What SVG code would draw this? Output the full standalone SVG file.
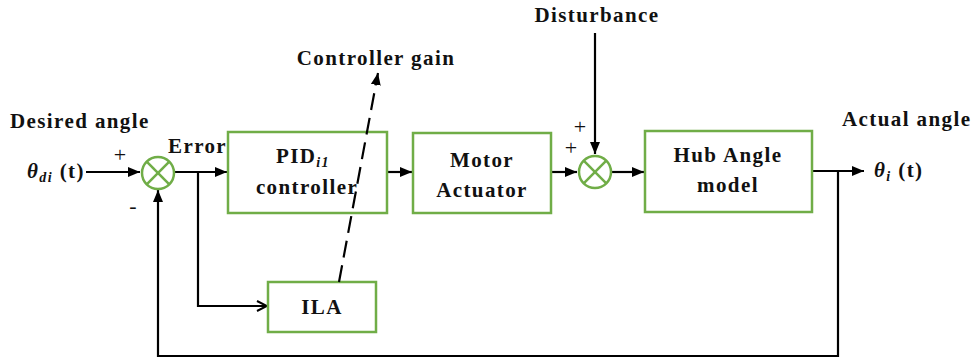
<svg xmlns="http://www.w3.org/2000/svg" width="976" height="362" viewBox="0 0 976 362">
  <style>
    .box { fill: #ffffff; stroke: #70ad47; stroke-width: 2.5; }
    .sum { fill: #ffffff; stroke: #70ad47; stroke-width: 2.5; }
    .cross { stroke: #70ad47; stroke-width: 2.5; }
    .wire { fill: none; stroke: #000000; stroke-width: 2.2; }
    .dash { fill: none; stroke: #000000; stroke-width: 2.2; stroke-dasharray: 17 8; }
    text { font-family: "Liberation Serif", "Times New Roman", serif; font-weight: bold; font-size: 21px; letter-spacing: 1.4px; fill: #111111; }
    .mid { text-anchor: middle; }
    .it { font-style: italic; }
    .sign { font-weight: normal; font-size: 22px; letter-spacing: 0; }
  </style>
  <defs>
    <marker id="arrow" viewBox="0 0 12 10" refX="12" refY="5" markerWidth="12" markerHeight="10" markerUnits="userSpaceOnUse" orient="auto">
      <path d="M0,0 L12,5 L0,10 Z" fill="#000000"/>
    </marker>
    <marker id="open" viewBox="0 0 12 12" refX="11" refY="6" markerWidth="12" markerHeight="12" markerUnits="userSpaceOnUse" orient="auto">
      <path d="M1,1 L11,6 L1,11" fill="none" stroke="#000000" stroke-width="2"/>
    </marker>
  </defs>

  <!-- signal lines -->
  <g id="connectors">
    <line class="wire" x1="86" y1="172" x2="140" y2="172" marker-end="url(#arrow)"/>
    <line class="wire" x1="174" y1="172" x2="227" y2="172" marker-end="url(#arrow)"/>
    <line class="wire" x1="387" y1="172" x2="412" y2="172" marker-end="url(#arrow)"/>
    <line class="wire" x1="551" y1="172" x2="577" y2="172" marker-end="url(#arrow)"/>
    <line class="wire" x1="612" y1="172" x2="644" y2="172" marker-end="url(#arrow)"/>
    <line class="wire" x1="812" y1="171" x2="864" y2="171" marker-end="url(#arrow)"/>
    <line class="wire" x1="595" y1="33" x2="595" y2="154" marker-end="url(#arrow)"/>
    <polyline class="wire" points="198,172 198,306 267,306" marker-end="url(#open)"/>
    <polyline class="wire" points="838,171 838,356 158,356 158,190" marker-end="url(#arrow)"/>
  </g>

  <g id="sum1">
    <circle class="sum" cx="158" cy="173" r="16"/>
    <line class="cross" x1="146.7" y1="161.7" x2="169.3" y2="184.3"/>
    <line class="cross" x1="169.3" y1="161.7" x2="146.7" y2="184.3"/>
  </g>

  <g id="pid">
    <rect class="box" x="228" y="132" width="159" height="81"/>
    <text x="303" y="163" class="mid">PID<tspan class="it" font-size="14" dy="4">i1</tspan></text>
    <text x="307" y="194" class="mid">controller</text>
  </g>

  <g id="motor">
    <rect class="box" x="413" y="133" width="138" height="80"/>
    <text x="482" y="167" class="mid">Motor</text>
    <text x="482" y="197" class="mid">Actuator</text>
  </g>

  <g id="sum2">
    <circle class="sum" cx="595" cy="172" r="16"/>
    <line class="cross" x1="583.7" y1="160.7" x2="606.3" y2="183.3"/>
    <line class="cross" x1="606.3" y1="160.7" x2="583.7" y2="183.3"/>
  </g>

  <g id="hub">
    <rect class="box" x="645" y="131" width="167" height="81"/>
    <text x="728" y="162" class="mid">Hub Angle</text>
    <text x="728" y="192" class="mid">model</text>
  </g>

  <g id="ila">
    <rect class="box" x="268" y="282" width="108" height="50"/>
    <text x="322" y="314" class="mid">ILA</text>
  </g>

  <!-- gain adaptation line, drawn across the PID block -->
  <g id="gain-link">
    <line class="dash" x1="339" y1="282" x2="378" y2="73" marker-end="url(#arrow)"/>
  </g>

  <g id="labels">
    <text x="10" y="128">Desired angle</text>
    <text x="27" y="178"><tspan class="it">θ</tspan><tspan class="it" font-size="14" dy="4">di</tspan><tspan dy="-4"> (t)</tspan></text>
    <text x="168" y="153">Error</text>
    <text x="376" y="65" class="mid">Controller gain</text>
    <text x="597" y="22" class="mid">Disturbance</text>
    <text x="842" y="126">Actual angle</text>
    <text x="874" y="177"><tspan class="it">θ</tspan><tspan class="it" font-size="14" dy="4">i</tspan><tspan dy="-4"> (t)</tspan></text>
    <text x="120" y="162" class="mid sign">+</text>
    <text x="133" y="213" class="mid sign">-</text>
    <text x="580" y="134" class="mid sign">+</text>
    <text x="571" y="155" class="mid sign">+</text>
  </g>
</svg>
